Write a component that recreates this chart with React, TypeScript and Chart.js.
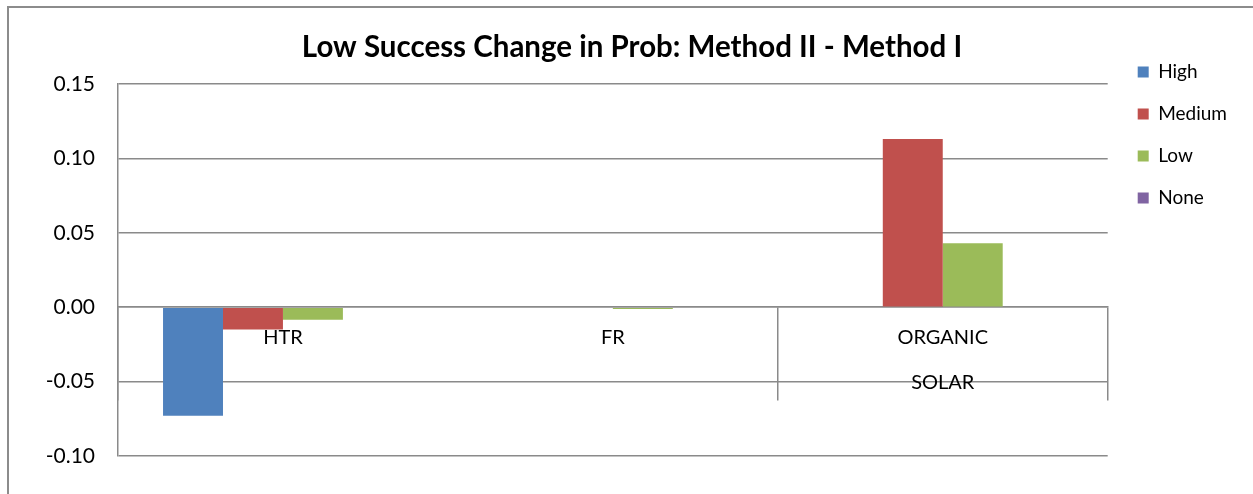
import React, { useEffect, useRef } from "react";
import { Chart, registerables } from "chart.js";

Chart.register(...registerables);

const chartTitle = "Low Success Change in Prob: Method II - Method I";
const categories: (string | string[])[] = ["HTR", "FR", ["ORGANIC", "SOLAR"]];
const seriesNames = ["High", "Medium", "Low", "None"];
const highValues = [-0.073, 0, 0];
const mediumValues = [-0.015, 0, 0.113];
const lowValues = [-0.0085, -0.0012, 0.043];
const noneValues = [0, 0, 0];
const seriesColors = ["#4F81BD", "#C0504D", "#9BBB59", "#8064A2"];
const yMin = -0.1;
const yMax = 0.15;
const yStep = 0.05;

const FONT = "Lato, 'Open Sans', sans-serif";
const GRAY = "#8a8a8a";

const boxNudge = {
  id: "boxNudge",
  afterLayout(chart: any) {
    const lg = chart.legend;
    if (lg) {
      lg.left += 7;
      lg.right += 7;
      lg.top += 39.5;
      lg.bottom += 39.5;
    }
    const tb = chart.titleBlock;
    if (tb) {
      tb.left += 17;
      tb.right += 17;
    }
  },
};

export default function App() {
  const ref = useRef<HTMLCanvasElement | null>(null);

  useEffect(() => {
    if (!ref.current) return;
    const values = [highValues, mediumValues, lowValues, noneValues];
    const chart = new Chart(ref.current, {
      type: "bar",
      data: {
        labels: categories,
        datasets: seriesNames.map((name, i) => ({
          label: name,
          data: values[i],
          backgroundColor: seriesColors[i],
          borderWidth: 0,
          barPercentage: 1,
          categoryPercentage: 0.727,
        })),
      },
      options: {
        animation: false,
        responsive: false,
        devicePixelRatio: 1,
        layout: { padding: { left: 0, right: 23, top: 0, bottom: 38 } },
        plugins: {
          title: {
            display: true,
            text: chartTitle,
            color: "#000",
            font: { family: FONT, size: 29.5, weight: "bold" },
            padding: { top: 29.3, bottom: 19.3 },
          },
          legend: {
            display: true,
            position: "right",
            align: "start",
            labels: {
              color: "#000",
              font: { family: FONT, size: 19 },
              boxWidth: 11,
              boxHeight: 11,
              padding: 23,
            },
          },
          tooltip: { enabled: false },
        },
        scales: {
          x: {
            type: "category",
            position: { y: 0 },
            offset: true,
            grid: {
              offset: true,
              drawOnChartArea: false,
              drawTicks: true,
              tickLength: 93,
              lineWidth: 1.5,
              tickColor: (ctx: any) => (ctx.index === 1 ? "rgba(0,0,0,0)" : GRAY),
            },
            border: { display: true, color: GRAY, width: 1.5 },
            ticks: {
              color: "#000",
              autoSkip: false,
              maxRotation: 0,
              padding: -85,
              font: { family: FONT, size: 20, lineHeight: 2.25 },
            },
          },
          y: {
            min: yMin,
            max: yMax,
            afterFit: (s: any) => {
              s.width = 118;
            },
            grid: { color: GRAY, lineWidth: 1.5, drawTicks: false },
            border: { display: true, color: GRAY, width: 1.5 },
            ticks: {
              stepSize: yStep,
              color: "#000",
              padding: 23,
              font: { family: FONT, size: 21 },
              callback: (v: any) => Number(v).toFixed(2),
            },
          },
        },
      },
      plugins: [boxNudge],
    });
    return () => chart.destroy();
  }, []);

  return (
    <div style={{ position: "fixed", left: 0, top: 0, width: "100vw", height: "100vh", overflow: "hidden", background: "#fff" }}>
      <div
        style={{
          position: "absolute",
          left: 7,
          top: 6,
          width: 1400,
          height: 700,
          border: "2px solid #8c8c8c",
        }}
      />
      <canvas ref={ref} width={1253} height={494} style={{ position: "absolute", left: 0, top: 0, width: 1253, height: 494 }} />
    </div>
  );
}
